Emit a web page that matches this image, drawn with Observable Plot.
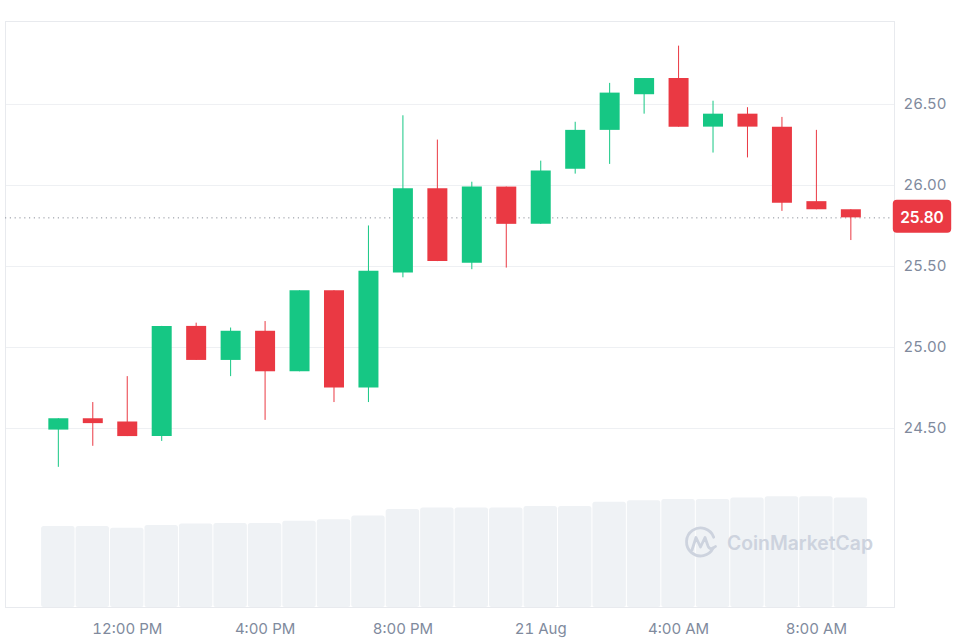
<!DOCTYPE html>
<html>
<head>
<meta charset="utf-8">
<script src="https://cdn.jsdelivr.net/npm/d3@7"></script>
<script src="https://cdn.jsdelivr.net/npm/@observablehq/plot@0.6"></script>
<style>
  html, body { margin: 0; padding: 0; background: #fff; }
  #wrap { position: relative; width: 962px; height: 640px; font-family: Inter, "Noto Sans", sans-serif; }
  #wrap > svg { position: absolute; left: 0; top: 0; }
</style>
</head>
<body>
<div id="wrap"></div>
<script>
// ---- data (hourly candles, 20–21 Aug) ----
const times = [
  "2023-08-20T10:00","2023-08-20T11:00","2023-08-20T12:00","2023-08-20T13:00",
  "2023-08-20T14:00","2023-08-20T15:00","2023-08-20T16:00","2023-08-20T17:00",
  "2023-08-20T18:00","2023-08-20T19:00","2023-08-20T20:00","2023-08-20T21:00",
  "2023-08-20T22:00","2023-08-20T23:00","2023-08-21T00:00","2023-08-21T01:00",
  "2023-08-21T02:00","2023-08-21T03:00","2023-08-21T04:00","2023-08-21T05:00",
  "2023-08-21T06:00","2023-08-21T07:00","2023-08-21T08:00","2023-08-21T09:00"
];
const opens  = [24.49,24.56,24.54,24.45,25.13,24.92,25.10,24.85,25.35,24.75,25.46,25.98,25.52,25.99,25.76,26.10,26.34,26.56,26.66,26.36,26.44,26.36,25.90,25.85];
const highs  = [24.56,24.66,24.82,25.13,25.15,25.12,25.16,25.35,25.35,25.75,26.43,26.28,26.02,25.99,26.15,26.39,26.63,26.66,26.86,26.52,26.48,26.42,26.34,25.85];
const lows   = [24.26,24.39,24.45,24.42,24.92,24.82,24.55,24.85,24.66,24.66,25.43,25.53,25.48,25.49,25.76,26.07,26.13,26.44,26.36,26.20,26.17,25.84,25.85,25.66];
const closes = [24.56,24.53,24.45,25.13,24.92,25.10,24.85,25.35,24.75,25.47,25.98,25.53,25.99,25.76,26.09,26.34,26.57,26.66,26.36,26.44,26.36,25.89,25.85,25.80];
const volumes = [41.5,41.5,40.6,42.0,42.8,43.0,43.0,44.2,44.9,46.9,50.2,51.0,51.0,51.0,51.7,51.7,53.9,54.6,55.3,55.3,56.0,56.7,56.7,56.0];

const yTicks = [24.5, 25.0, 25.5, 26.0, 26.5];
const xTickTimes  = ["2023-08-20T12:00","2023-08-20T16:00","2023-08-20T20:00","2023-08-21T00:00","2023-08-21T04:00","2023-08-21T08:00"];
const xTickLabels = ["12:00 PM","4:00 PM","8:00 PM","21 Aug","4:00 AM","8:00 AM"];

// ---- build ----
const parse = d3.timeParse("%Y-%m-%dT%H:%M");
const candles = times.map((t, i) => ({
  date: parse(t), open: opens[i], high: highs[i], low: lows[i], close: closes[i], volume: volumes[i]
}));
const ups = candles.filter(d => d.close >= d.open);
const downs = candles.filter(d => d.close < d.open);
const lastClose = closes[closes.length - 1];

const GREEN = "#16c784", RED = "#ea3943", GRAY = "#808a9d";
const xDomain = [parse("2023-08-20T08:28"), parse("2023-08-21T10:16")];
const xTicks = xTickTimes.map(parse);
const labelMap = new Map(xTicks.map((d, i) => [+d, xTickLabels[i]]));

const frameOpts = { width: 962, height: 640, marginLeft: 5, marginRight: 68, marginTop: 21, marginBottom: 33 };

// volume layer
const volPlot = Plot.plot({
  ...frameOpts,
  style: { background: "transparent" },
  x: { type: "time", domain: xDomain, axis: null },
  y: { domain: [0, 300], axis: null },
  marks: [
    Plot.rectY(candles, {
      x1: d => d3.timeMinute.offset(d.date, -30),
      x2: d => d3.timeMinute.offset(d.date, 30),
      y: "volume",
      fill: "#eff2f5",
      insetLeft: 0.5, insetRight: 0.5, rx: 2.5
    })
  ]
});

// rounded box symbol for the current-price label
const labelBox = {
  draw(ctx) {
    const w = 58.4, h = 33, r = 4, x0 = -w / 2, y0 = -h / 2, x1 = w / 2, y1 = h / 2;
    ctx.moveTo(x0 + r, y0);
    ctx.lineTo(x1 - r, y0); ctx.arcTo(x1, y0, x1, y0 + r, r);
    ctx.lineTo(x1, y1 - r); ctx.arcTo(x1, y1, x1 - r, y1, r);
    ctx.lineTo(x0 + r, y1); ctx.arcTo(x0, y1, x0, y1 - r, r);
    ctx.lineTo(x0, y0 + r); ctx.arcTo(x0, y0, x0 + r, y0, r);
    ctx.closePath();
  }
};

const pricePlot = Plot.plot({
  ...frameOpts,
  style: { background: "transparent", fontFamily: "Inter, 'Noto Sans', sans-serif", fontSize: "15px", color: GRAY },
  x: { type: "time", domain: xDomain },
  y: { domain: [23.395, 27.012] },
  marks: [
    Plot.gridY(yTicks, { stroke: "#eef0f3", strokeOpacity: 1 }),
    Plot.frame({ stroke: "#e8eaee" }),
    Plot.axisY(yTicks, { anchor: "right", tickSize: 0, tickPadding: 9, tickFormat: d3.format(".2f"), fontSize: 15 }),
    Plot.axisX(xTicks, { anchor: "bottom", tickSize: 0, tickPadding: 16, tickFormat: d => labelMap.get(+d), fontSize: 15 }),
    Plot.ruleY([lastClose], { stroke: "#8c919b", strokeDasharray: "1.2,3.6" }),
    Plot.ruleX(ups,   { x: "date", y1: "low", y2: "high", stroke: GREEN, strokeWidth: 1 }),
    Plot.ruleX(downs, { x: "date", y1: "low", y2: "high", stroke: RED, strokeWidth: 1 }),
    Plot.ruleX(ups,   { x: "date", y1: "open", y2: "close", stroke: GREEN, strokeWidth: 20 }),
    Plot.ruleX(downs, { x: "date", y1: "open", y2: "close", stroke: RED, strokeWidth: 20 }),
    Plot.dot([lastClose], { y: d => d, frameAnchor: "right", dx: 27.5, dy: -1.5, symbol: labelBox, r: 10, fill: RED, stroke: "none" }),
    Plot.text([lastClose], { y: d => d, frameAnchor: "right", dx: 27.5, textAnchor: "middle", text: d => d.toFixed(2), fill: "#fff", fontWeight: 600, fontSize: 15.5 })
  ]
});

const wrap = document.getElementById("wrap");
wrap.appendChild(volPlot);

// watermark
const ns = "http://www.w3.org/2000/svg";
const wm = document.createElementNS(ns, "svg");
wm.setAttribute("width", 962); wm.setAttribute("height", 640);
wm.innerHTML = `
  <g fill="none" stroke="#cdd3de" stroke-width="2.8" stroke-linecap="round" stroke-linejoin="round">
    <path d="M 713.2 547.9 A 14 14 0 1 1 713.7 537.2"/>
    <path d="M 692 550 L 696 537.5 L 700.5 547 L 705 537.5 L 708 546 Q 710 551 715.5 546.5"/>
  </g>
  <text x="727" y="549.5" font-family="Inter, 'Noto Sans', sans-serif" font-size="19.5" font-weight="600" fill="#cdd3de" textLength="146" lengthAdjust="spacingAndGlyphs">CoinMarketCap</text>`;
wrap.appendChild(wm);
wrap.appendChild(pricePlot);
</script>
</body>
</html>
